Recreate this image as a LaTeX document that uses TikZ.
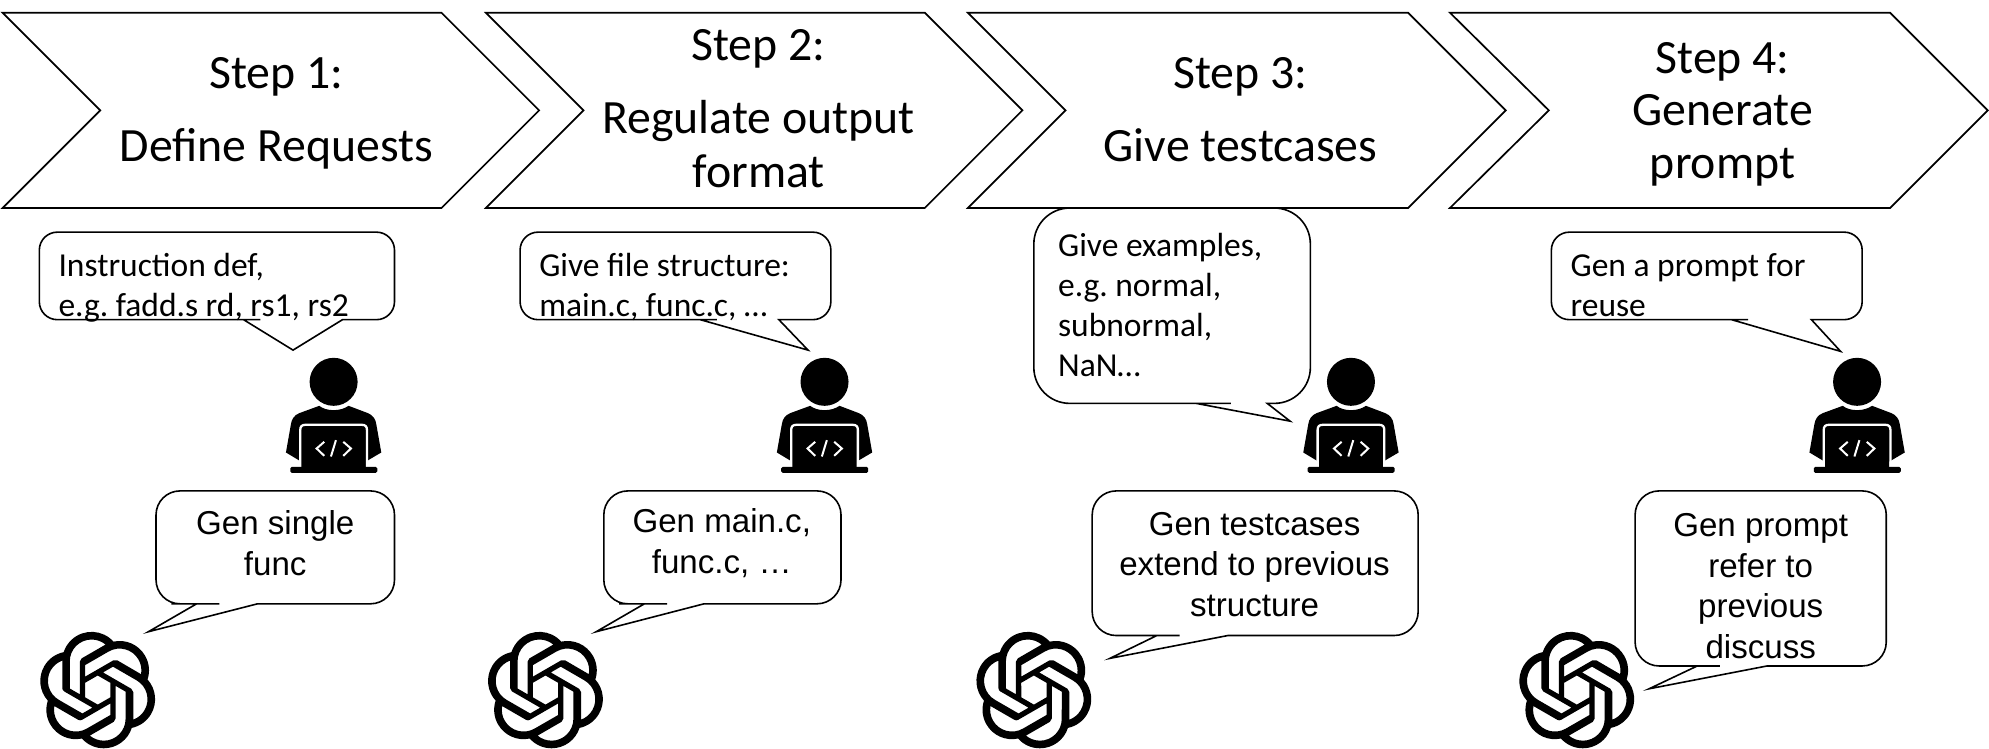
\documentclass[tikz,border=0pt]{standalone}
\usepackage{fontspec}
\usetikzlibrary{svg.path}
\setmainfont{Carlito}
\newfontfamily\carl{Carlito}
\newfontfamily\arl{Liberation Sans}
\frenchspacing
\tikzset{
  stepshape/.style={draw=black,line width=1.7pt,fill=white,line join=miter},
  bubbleshape/.style={draw=black,line width=1.6pt,fill=white},
  steptext/.style={align=center,inner sep=0pt,font=\carl\fontsize{47.8}{52.5}\selectfont},
  reqtext/.style={align=left,anchor=west,inner sep=0pt,font=\carl\fontsize{33.5}{40}\selectfont},
  gentext/.style={align=center,inner sep=0pt,font=\arl\fontsize{33.1}{40.5}\selectfont},
  pics/coder/.style={code={
    \begin{scope}[scale=0.2628]
      \fill[black] (0,0) circle (72);
      \fill[black,shift={(-1003,-128)}] (1003,213) .. controls (985,213) and (970,208) .. (960,200)
        -- (900,222) .. controls (885,228) and (877,240) .. (875,255) -- (860,340)
        -- (905,367) -- (905,385) -- (1100,385) -- (1100,367) -- (1146,340) -- (1131,255)
        .. controls (1129,240) and (1121,228) .. (1106,222) -- (1048,200)
        .. controls (1036,208) and (1021,213) .. (1003,213) -- cycle;
      \draw[white,line width=2.3pt,shift={(-1003,-128)}] (903,385) -- (903,272)
        .. controls (903,262) and (908,257) .. (918,257) -- (1088,257)
        .. controls (1098,257) and (1103,262) .. (1103,272) -- (1103,385);
      \fill[black,rounded corners=1.5pt,shift={(-1003,-128)}] (873,383) rectangle (1134,401);
      \draw[white,line width=2pt,shift={(-1003,-128)}] (975,308) -- (952,328) -- (975,350)
        (1010,303) -- (995,352) (1032,308) -- (1055,328) -- (1032,350);
    \end{scope}
  }},
  pics/gptlogo/.style={code={
    \begin{scope}[xscale=4.85,yscale=-4.85,shift={(-12pt,-12pt)}]
      \fill[black,even odd rule] svg "M22.2819 9.8211a5.9847 5.9847 0 0 0-.5157-4.9108 6.0462 6.0462 0 0 0-6.5098-2.9A6.0651 6.0651 0 0 0 4.9807 4.1818a5.9847 5.9847 0 0 0-3.9977 2.9 6.0462 6.0462 0 0 0 .7427 7.0966 5.98 5.98 0 0 0 .511 4.9107 6.051 6.051 0 0 0 6.5146 2.9001A5.9847 5.9847 0 0 0 13.2599 24a6.0557 6.0557 0 0 0 5.7718-4.2058 5.9894 5.9894 0 0 0 3.9977-2.9001 6.0557 6.0557 0 0 0-.7475-7.0729zm-9.022 12.6081a4.4755 4.4755 0 0 1-2.8764-1.0408l.1419-.0804 4.7783-2.7582a.7948.7948 0 0 0 .3927-.6813v-6.7369l2.02 1.1686a.071.071 0 0 1 .038.052v5.5826a4.504 4.504 0 0 1-4.4945 4.4944zm-9.6607-4.1254a4.4708 4.4708 0 0 1-.5346-3.0137l.142.0852 4.783 2.7582a.7712.7712 0 0 0 .7806 0l5.8428-3.3685v2.3324a.0804.0804 0 0 1-.0332.0615L9.74 19.9502a4.4992 4.4992 0 0 1-6.1408-1.6464zM2.3408 7.8956a4.485 4.485 0 0 1 2.3655-1.9728V11.6a.7664.7664 0 0 0 .3879.6765l5.8144 3.3543-2.0201 1.1685a.0757.0757 0 0 1-.071 0l-4.8303-2.7865A4.504 4.504 0 0 1 2.3408 7.872zm16.5963 3.8558L13.1038 8.364 15.1192 7.2a.0757.0757 0 0 1 .071 0l4.8303 2.7913a4.4944 4.4944 0 0 1-.6765 8.1042v-5.6772a.79.79 0 0 0-.407-.667zm2.0107-3.0231l-.142-.0852-4.7735-2.7818a.7759.7759 0 0 0-.7854 0L9.409 9.2297V6.8974a.0662.0662 0 0 1 .0284-.0615l4.8303-2.7866a4.4992 4.4992 0 0 1 6.6802 4.66zM8.3065 12.863l-2.02-1.1638a.0804.0804 0 0 1-.038-.0567V6.0742a4.4992 4.4992 0 0 1 7.3757-3.4537l-.142.0805L8.704 5.459a.7948.7948 0 0 0-.3927.6813zM9.4041 10.4976l2.602-1.4998 2.6069 1.4998v2.9994l-2.5974 1.4997-2.6067-1.4997Z";
    \end{scope}
  }}
}
% chevron: x0 notch shoulder tip
\newcommand{\chevron}[4]{\draw[stepshape] (#1,10) -- (#3,10) -- (#4,87) -- (#3,164) -- (#1,164) -- (#2,87) -- cycle;}
% bubble: x1 y1 x2 y2 r tail1 tail2 tipx tipy
\newcommand{\bubble}[9]{\draw[bubbleshape] (#7,#4) [rounded corners=#5pt] -- (#3,#4) -- (#3,#2) -- (#1,#2) -- (#1,#4) -- (#6-1,#4) [sharp corners] -- (#6,#4) -- (#8,#9) -- (#7,#4) -- cycle;}
\begin{document}
\begin{tikzpicture}[x=1.2685pt,y=-1.2685pt]
\useasboundingbox (0,0) rectangle (1568,590.46);
\chevron{2}{79}{348}{425}
\chevron{383}{460}{729}{806}
\chevron{763}{840}{1110}{1187}
\chevron{1143}{1221}{1490}{1567}
\node[steptext] (s1) at (218,92.5) {Step 1:\\[20pt]Define Requests\strut};
\node[steptext] (s2) at (598,92) {Step 2:\\[20pt]Regulate output\\[2pt]format\strut};
\node[steptext] (s3) at (978,92.5) {Step 3:\\[20pt]Give testcases\strut};
\node[steptext] (s4) at (1358,93) {Step 4:\\Generate\\prompt\strut};

\bubble{31}{183}{311}{252}{18}{192}{270}{231}{276}
\bubble{410}{183}{655}{252}{18}{552}{614}{637}{276}
\bubble{815}{164}{1033}{318}{36}{943}{999}{1017}{332}
\bubble{1223}{183}{1468}{252}{18}{1365}{1428}{1451}{277}
\node[reqtext] (r1) at (46,229.5) {Instruction def,\\e.g. fadd.s rd, rs1, rs2\strut};
\node[reqtext] (r2) at (425,229.5) {Give file structure:\\main.c, func.c, …\strut};
\node[reqtext] (r3) at (834,245) {Give examples,\\e.g. normal,\\subnormal,\\NaN…\strut};
\node[reqtext] (r4) at (1238,229.5) {Gen a prompt for\\reuse\strut};

\pic at (263,301) {coder};
\pic at (650,301) {coder};
\pic at (1065,301) {coder};
\pic at (1464,301) {coder};

\bubble{123}{387}{311}{476}{24}{155}{203}{117}{498}
\bubble{476}{387}{663}{476}{24}{508}{555}{470}{498}
\bubble{861}{387}{1118}{501}{24}{912}{968}{875}{519}
\bubble{1289}{387}{1487}{525}{24}{1338}{1393}{1300}{543}
\node[gentext] (g1) at (217,428) {Gen single\\func};
\node[gentext] (g2) at (569,428) {Gen main.c,\\func.c, …};
\node[gentext] (g3) at (989,445) {Gen testcases\\extend to previous\\structure};
\node[gentext] (g4) at (1388,462) {Gen prompt\\refer to\\previous\\discuss};

\pic at (77,544) {gptlogo};
\pic at (430,544) {gptlogo};
\pic at (815,544) {gptlogo};
\pic at (1243,544) {gptlogo};
\end{tikzpicture}
\end{document}
